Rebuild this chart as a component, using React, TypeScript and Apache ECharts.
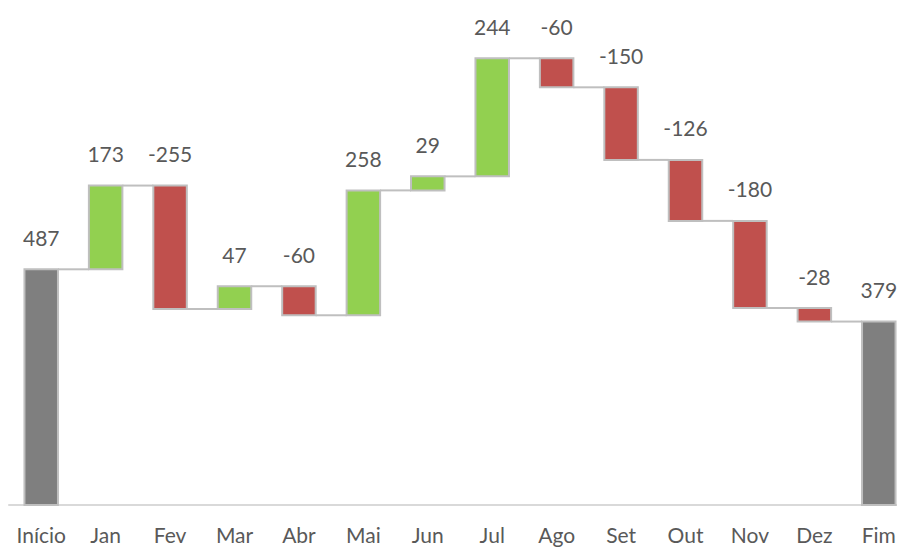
import React, { useEffect, useRef } from "react";
import * as echarts from "echarts";

const categories = ["Início", "Jan", "Fev", "Mar", "Abr", "Mai", "Jun", "Jul", "Ago", "Set", "Out", "Nov", "Dez", "Fim"];
const values = [487, 173, -255, 47, -60, 258, 29, 244, -60, -150, -126, -180, -28, 379];
const isTotal = [true, false, false, false, false, false, false, false, false, false, false, false, false, true];

const COLOR_UP = "#92d050";
const COLOR_DOWN = "#c0504d";
const COLOR_TOTAL = "#7f7f7f";
const BORDER = "#bfbfbf";
const TEXT = "#595959";
const FONT = "Lato, 'Open Sans', sans-serif";

export default function App() {
  const ref = useRef<HTMLDivElement>(null);
  useEffect(() => {
    document.body.style.margin = "0";
    if (!ref.current) return;
    const chart = echarts.init(ref.current, null, { renderer: "svg" });

    let cum = 0;
    const data: number[][] = values.map((v, i) => {
      let start: number, end: number, kind: number;
      if (isTotal[i]) {
        start = 0;
        end = v;
        cum = v;
        kind = 2;
      } else {
        start = cum;
        end = cum + v;
        cum = end;
        kind = v >= 0 ? 0 : 1;
      }
      return [i, start, end, v, kind];
    });

    chart.setOption({
      animation: false,
      grid: { left: 9, right: 0, top: 21, bottom: 42 },
      xAxis: {
        type: "category",
        data: categories,
        boundaryGap: true,
        axisTick: { show: false },
        axisLine: { show: true, lineStyle: { color: "#d9d9d9", width: 2 } },
        axisLabel: { color: TEXT, fontSize: 21, fontFamily: FONT, margin: 19, interval: 0 },
        splitLine: { show: false },
      },
      yAxis: { type: "value", min: 0, max: 1000, show: false },
      series: [
        {
          type: "custom",
          data,
          encode: { x: 0, y: [1, 2] },
          renderItem: (params: any, api: any) => {
            const idx = api.value(0);
            const start = api.value(1);
            const end = api.value(2);
            const val = api.value(3);
            const kind = api.value(4);
            const band = api.size([1, 0])[0];
            const bw = band * 0.52;
            const p0 = api.coord([idx, start]);
            const p1 = api.coord([idx, end]);
            const cx = p0[0];
            const yTop = Math.min(p0[1], p1[1]);
            const yBot = Math.max(p0[1], p1[1]);
            const fill = kind === 0 ? COLOR_UP : kind === 1 ? COLOR_DOWN : COLOR_TOTAL;
            const children: any[] = [];
            if (idx < categories.length - 1) {
              const pn = api.coord([idx + 1, end]);
              children.push({
                type: "line",
                shape: { x1: cx + bw / 2, y1: p1[1], x2: pn[0] - bw / 2, y2: p1[1] },
                style: { stroke: BORDER, lineWidth: 2 },
              });
            }
            children.push({
              type: "rect",
              shape: { x: cx - bw / 2, y: yTop, width: bw, height: yBot - yTop },
              style: { fill, stroke: BORDER, lineWidth: 2 },
            });
            children.push({
              type: "text",
              x: cx,
              y: yTop - 32,
              style: {
                text: String(val),
                fill: TEXT,
                fontSize: 21,
                fontFamily: FONT,
                align: "center",
                verticalAlign: "middle",
              },
            });
            return { type: "group", children };
          },
        },
      ],
    });
    return () => chart.dispose();
  }, []);
  return (
    <div style={{ width: 897, height: 547, overflow: "hidden", position: "relative" }}>
      <div ref={ref} style={{ width: 911, height: 547 }} />
    </div>
  );
}
